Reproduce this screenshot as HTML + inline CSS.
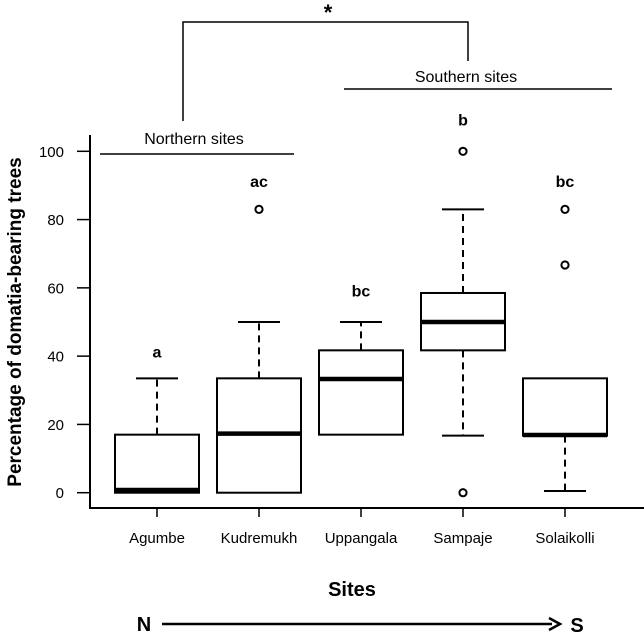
<!DOCTYPE html>
<html><head><meta charset="utf-8"><style>
body{margin:0;background:#fff}
svg{display:block;font-family:"Liberation Sans",Arial,sans-serif}
</style></head><body>
<svg id="chart" width="644" height="639" viewBox="0 0 644 639">
<g id="axes"></g>
<g id="boxes"></g>
<g id="annot">
  <text x="328" y="20" font-size="22" font-weight="bold" text-anchor="middle">*</text>
  <path d="M183 121 V22 H468 V61" fill="none" stroke="#000" stroke-width="1.5"/>
  <text x="466" y="82" font-size="16" text-anchor="middle">Southern sites</text>
  <line x1="344" y1="89" x2="612" y2="89" stroke="#000" stroke-width="1.5"/>
  <text x="194" y="144" font-size="16" text-anchor="middle">Northern sites</text>
  <line x1="100" y1="154" x2="294" y2="154" stroke="#000" stroke-width="1.5"/>
  <text x="352" y="596" font-size="20" font-weight="bold" text-anchor="middle">Sites</text>
  <text transform="translate(21,322) rotate(-90)" font-size="19" font-weight="bold" text-anchor="middle">Percentage of domatia-bearing trees</text>
  <text x="144" y="631" font-size="20" font-weight="bold" text-anchor="middle">N</text>
  <line x1="162" y1="624" x2="552" y2="624" stroke="#000" stroke-width="2.5"/>
  <path d="M549 618 L560 624 L549 630" fill="none" stroke="#000" stroke-width="2.5"/>
  <text x="577" y="632" font-size="20" font-weight="bold" text-anchor="middle">S</text>
</g>
</svg>
<script>
const sites = ["Agumbe","Kudremukh","Uppangala","Sampaje","Solaikolli"];
const q1 = [0, 0, 17, 41.7, 16.7];
const medians = [0.8, 17.3, 33.3, 50, 16.9];
const q3 = [17, 33.5, 41.7, 58.5, 33.5];
const whiskerLow = [0, 0, 17, 16.7, 0.5];
const whiskerHigh = [33.5, 50, 50, 83, 33.5];
const outliers = [[], [83], [], [100, 0], [83, 66.7]];
const letters = ["a","ac","bc","b","bc"];
const letterPos = [41, 91, 59, 109, 91];
const yTicks = [0, 20, 40, 60, 80, 100];

const NS = "http://www.w3.org/2000/svg";
const y = v => 492.7 - v * 3.414;
const x = i => 157 + i * 102;
const BW = 84;
function mk(tag, attrs, parent){const e=document.createElementNS(NS,tag);for(const k in attrs)e.setAttribute(k,attrs[k]);parent.appendChild(e);return e;}
const axes=document.getElementById('axes'), boxes=document.getElementById('boxes');

let l=mk('line',{x1:90,y1:135,x2:90,y2:508,stroke:'#000','stroke-width':2},axes);


l=mk('line',{x1:89,y1:508,x2:644,y2:508,stroke:'#000','stroke-width':2},axes);


yTicks.forEach(v=>{
  const t=mk('line',{x1:77,y1:y(v),x2:90,y2:y(v),stroke:'#000','stroke-width':1.5},axes);
  
  
  const tx=mk('text',{x:64,y:y(v)+5.5,'font-size':15,'text-anchor':'end'},axes);
  tx.textContent=v;
  
  
});
sites.forEach((s,i)=>{
  const cx=x(i);
  const t=mk('line',{x1:cx,y1:508,x2:cx,y2:517,stroke:'#000','stroke-width':1.5},axes);
  
  
  const tx=mk('text',{x:cx,y:543,'font-size':15,'text-anchor':'middle'},axes);
  tx.textContent=s;
  
  

  const g=mk('g',{},boxes);
  
  
  if(whiskerHigh[i]>q3[i]){
    mk('line',{x1:cx,y1:y(q3[i]),x2:cx,y2:y(whiskerHigh[i]),stroke:'#000','stroke-width':2,'stroke-dasharray':'7 5'},g);
    mk('line',{x1:cx-21,y1:y(whiskerHigh[i]),x2:cx+21,y2:y(whiskerHigh[i]),stroke:'#000','stroke-width':2},g);
  }
  if(whiskerLow[i]<q1[i]){
    mk('line',{x1:cx,y1:y(q1[i]),x2:cx,y2:y(whiskerLow[i]),stroke:'#000','stroke-width':2,'stroke-dasharray':'7 5'},g);
    mk('line',{x1:cx-21,y1:y(whiskerLow[i]),x2:cx+21,y2:y(whiskerLow[i]),stroke:'#000','stroke-width':2},g);
  }
  mk('rect',{x:cx-BW/2,y:y(q3[i]),width:BW,height:y(q1[i])-y(q3[i]),fill:'#fff',stroke:'#000','stroke-width':2},g);
  mk('line',{x1:cx-BW/2,y1:y(medians[i]),x2:cx+BW/2,y2:y(medians[i]),stroke:'#000','stroke-width':4.5},g);
  outliers[i].forEach(o=>{
    const c=mk('circle',{cx:cx,cy:y(o),r:3.6,fill:'none',stroke:'#000','stroke-width':2},g);
    
    
  });
  const lt=mk('text',{x:cx,y:y(letterPos[i])+5,'font-size':16,'font-weight':'bold','text-anchor':'middle'},g);
  lt.textContent=letters[i];
  
  
});
</script>
</body></html>
